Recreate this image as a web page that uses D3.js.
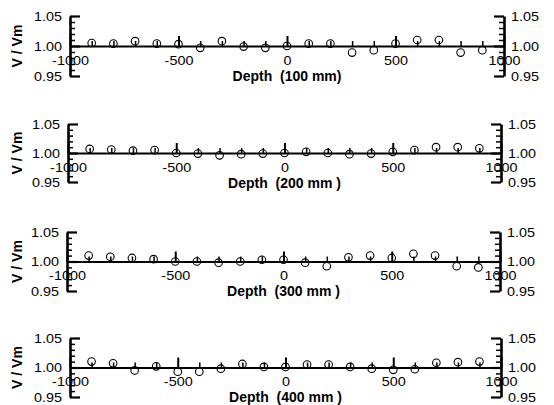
<!DOCTYPE html>
<html><head><meta charset="utf-8">
<script src="https://cdn.jsdelivr.net/npm/d3@7"></script>
<style>
html,body{margin:0;padding:0;background:#fff;}
svg{display:block;}
text{font-family:"Liberation Sans",Arial,sans-serif;fill:#000;}
</style></head>
<body>
<script>
// ---- data ----
const depths = [-900,-800,-700,-600,-500,-400,-300,-200,-100,0,100,200,300,400,500,600,700,800,900];
const ratio100 = [1.005,1.004,1.008,1.004,1.003,0.997,1.008,0.999,0.997,1.000,1.004,1.004,0.989,0.993,1.004,1.010,1.010,0.989,0.993];
const ratio200 = [1.007,1.006,1.004,1.005,1.000,0.999,0.996,0.998,0.999,1.000,1.002,1.000,0.998,0.999,1.002,1.005,1.010,1.010,1.008];
const ratio300 = [1.010,1.008,1.006,1.004,1.000,1.000,0.998,1.000,1.003,1.003,0.998,0.992,1.007,1.010,1.006,1.013,1.010,0.992,0.990];
const ratio400 = [1.010,1.007,0.995,1.002,0.993,0.993,0.998,1.006,1.001,1.001,1.005,1.005,1.001,0.998,0.996,0.997,1.008,1.009,1.010];
const seriesList = [ratio100, ratio200, ratio300, ratio400];
const xTitles = ["Depth  (100 mm)", "Depth  (200 mm )", "Depth  (300 mm )", "Depth  (400 mm )"];
const yTitle = "V / Vm";
const xMajorTicks = [-1000,-500,0,500,1000];
const xTickLabels = ["-1000","-500","0","500","1000"];
const xMinorTicks = [-900,-800,-700,-600,-400,-300,-200,-100,100,200,300,400,600,700,800,900];
const yMajorTicks = [0.95,1.00,1.05];
const yTickLabels = ["0.95","1.00","1.05"];
const yMinorTicks = [0.96,0.97,0.98,0.99,1.01,1.02,1.03,1.04];
const xDomain = [-1000,1000];
const yDomain = [0.95,1.05];

// ---- layout ----
const W = 554, H = 405;
const frames = [
  {left:70, right:504, top:16, bottom:76},
  {left:68, right:501, top:124, bottom:182},
  {left:67, right:500, top:232, bottom:291},
  {left:70, right:501, top:338, bottom:397}
];
const SX = 1.15; // horizontal stretch of tick labels

const svg = d3.select("body").append("svg").attr("width", W).attr("height", H);

const xFmt = d => xTickLabels[xMajorTicks.indexOf(d)];
const yFmt = d => yTickLabels[yMajorTicks.indexOf(d)];

frames.forEach((f, i) => {
  const x = d3.scaleLinear().domain(xDomain).range([f.left, f.right]);
  const y = d3.scaleLinear().domain(yDomain).range([f.bottom, f.top]);
  const g = svg.append("g");
  const y1 = y(1.0);

  // x axis (at V/Vm = 1)
  const gxMinor = g.append("g").attr("transform", `translate(0,${y1})`)
    .call(d3.axisBottom(x).tickValues(xMinorTicks).tickSize(-5).tickSizeOuter(0).tickFormat(""));
  gxMinor.select(".domain").remove();
  gxMinor.selectAll("line").attr("stroke-width", 1.5);

  const gx = g.append("g").attr("transform", `translate(0,${y1})`)
    .call(d3.axisBottom(x).tickValues(xMajorTicks).tickSize(-10).tickSizeOuter(0).tickPadding(10).tickFormat(xFmt));
  gx.select(".domain").attr("stroke-width", 2.2);
  gx.selectAll(".tick line").attr("stroke-width", 2);
  gx.selectAll(".tick text").attr("font-size", 12.5).attr("font-family", "Liberation Sans, Arial, sans-serif")
    .attr("transform", `scale(${SX},1)`);

  // left axis
  const gyl = g.append("g").attr("transform", `translate(${f.left},0)`);
  gyl.append("g").call(d3.axisLeft(y).tickValues(yMinorTicks).tickSize(-5).tickSizeOuter(0).tickFormat(""))
    .call(s => { s.select(".domain").remove(); s.selectAll("line").attr("stroke-width", 1.5); });
  gyl.append("g").call(d3.axisLeft(y).tickValues(yMajorTicks).tickSize(-10).tickSizeOuter(0).tickPadding(8).tickFormat(yFmt))
    .call(s => {
      s.select(".domain").attr("stroke-width", 2.6);
      s.selectAll(".tick line").attr("stroke-width", 2.2);
      s.selectAll(".tick text").attr("font-size", 12.5).attr("font-family", "Liberation Sans, Arial, sans-serif")
        .attr("x", -8 / SX).attr("transform", `scale(${SX},1)`);
    });

  // right axis
  const gyr = g.append("g").attr("transform", `translate(${f.right},0)`);
  gyr.append("g").call(d3.axisRight(y).tickValues(yMinorTicks).tickSize(-5).tickSizeOuter(0).tickFormat(""))
    .call(s => { s.select(".domain").remove(); s.selectAll("line").attr("stroke-width", 1.5); });
  gyr.append("g").call(d3.axisRight(y).tickValues(yMajorTicks).tickSize(-10).tickSizeOuter(0).tickPadding(7).tickFormat(yFmt))
    .call(s => {
      s.select(".domain").attr("stroke-width", 2.6);
      s.selectAll(".tick line").attr("stroke-width", 2.2);
      s.selectAll(".tick text").attr("font-size", 12.5).attr("font-family", "Liberation Sans, Arial, sans-serif")
        .attr("x", 7 / SX).attr("transform", `scale(${SX},1)`);
    });

  // data points
  g.append("g").selectAll("circle").data(depths.map((d, k) => [d, seriesList[i][k]]))
    .join("circle")
    .attr("cx", d => x(d[0])).attr("cy", d => y(d[1])).attr("r", 3.8)
    .attr("fill", "none").attr("stroke", "#000").attr("stroke-width", 1.1);

  // x title
  g.append("text").attr("x", x(0)).attr("y", y1 + 34.5)
    .attr("text-anchor", "middle").attr("font-weight", "bold").attr("font-size", 14)
    .style("white-space", "pre").text(xTitles[i]);

  // y title
  g.append("text").attr("transform", `translate(22,${y1}) rotate(-90)`)
    .attr("text-anchor", "middle").attr("font-weight", "bold").attr("font-size", 14)
    .style("white-space", "pre").text(yTitle);
});
</script>
</body></html>
